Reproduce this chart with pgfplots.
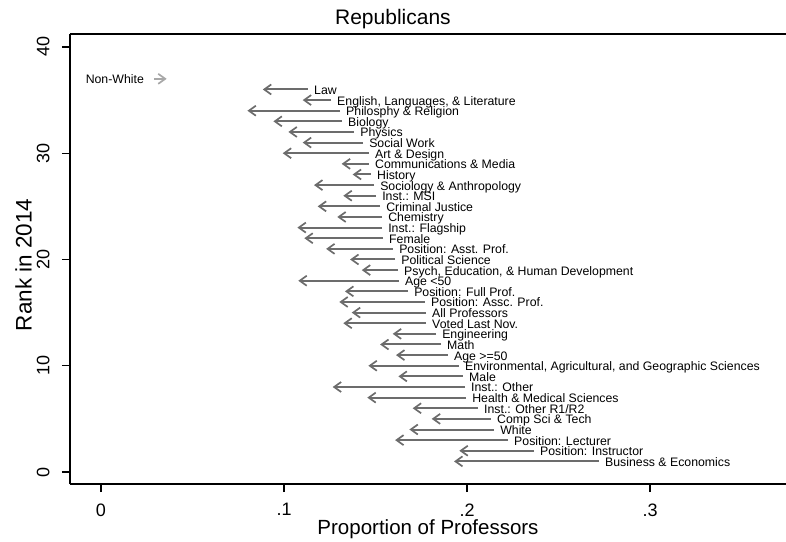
\documentclass[border=0pt]{standalone}
\usepackage{fontspec}
\setmainfont{Liberation Sans}
\usepackage{pgfplots}
\usepackage{pgfplotstable}
\pgfplotsset{compat=1.18}
\usetikzlibrary{arrows.meta}
\definecolor{arr}{RGB}{108,108,108}
\definecolor{arrlight}{RGB}{168,168,168}

\pgfplotstableread[col sep=semicolon,row sep=\\]{
tail;head;rank;label\\
0.1131;0.0884;36;Law\\
0.1257;0.1102;35;English, Languages, \& Literature\\
0.1306;0.0800;34;Philosphy \& Religion\\
0.1317;0.0942;33;Biology\\
0.1383;0.1024;32;Physics\\
0.1432;0.1102;31;Social Work\\
0.1464;0.0993;30;Art \& Design\\
0.1464;0.1315;29;Communications \& Media\\
0.1475;0.1375;28;History\\
0.1492;0.1164;27;Sociology \& Anthropology\\
0.1503;0.1324;26;Inst.: MSI\\
0.1525;0.1184;25;Criminal Justice\\
0.1536;0.1291;24;Chemistry\\
0.1536;0.1073;23;Inst.: Flagship\\
0.1541;0.1111;22;Female\\
0.1596;0.1230;21;Position: Asst. Prof.\\
0.1607;0.1361;20;Political Science\\
0.1623;0.1425;19;Psych, Education, \& Human Development\\
0.1628;0.1078;18;Age <50\\
0.1678;0.1333;17;Position: Full Prof.\\
0.1770;0.1302;16;Position: Assc. Prof.\\
0.1776;0.1370;15;All Professors\\
0.1776;0.1324;14;Voted Last Nov.\\
0.1831;0.1594;13;Engineering\\
0.1858;0.1525;12;Math\\
0.1896;0.1612;11;Age >=50\\
0.1956;0.1461;10;Environmental, Agricultural, and Geographic Sciences\\
0.1978;0.1625;9;Male\\
0.1989;0.1266;8;Inst.: Other\\
0.1995;0.1455;7;Health \& Medical Sciences\\
0.2060;0.1703;6;Inst.: Other R1/R2\\
0.2131;0.1807;5;Comp Sci \& Tech\\
0.2148;0.1685;4;White\\
0.2224;0.1607;3;Position: Lecturer\\
0.2366;0.1958;2;Position: Instructor\\
0.2721;0.1929;1;Business \& Economics\\
}\down

\pgfplotstableread[col sep=semicolon,row sep=\\]{
tail;head;rank;label\\
0.0290;0.0359;37;Non-White\\
}\up

\begin{document}
\begin{tikzpicture}
\path[use as bounding box] (0,0) rectangle (786pt,541pt);
\begin{axis}[
  at={(70pt,57pt)}, anchor=south west,
  scale only axis, width=716pt, height=450pt,
  xmin=-0.01694, xmax=0.3743, ymin=-1.129, ymax=41.22,
  axis x line=box, axis y line=left,
  axis line style={-, line width=1.2pt, black},
  xtick={0,0.1,0.2,0.3}, xticklabels={0,.1,.2,.3},
  ytick={0,10,20,30,40}, yticklabels={0,10,20,30,40},
  xtick pos=left, ytick pos=left,
  tick align=outside, major tick length=8pt,
  tick style={line width=1.1pt, black},
  tick label style={font=\fontsize{18}{20}\selectfont},
  xticklabel style={yshift=-8pt},
  yticklabel style={rotate=90, anchor=south, yshift=9pt},
  xlabel={Proportion of Professors},
  xlabel style={at={(axis description cs:0.5,0)}, anchor=base, yshift=-50pt, font=\fontsize{20.5}{23}\selectfont},
  ylabel={Rank in 2014},
  ylabel style={at={(axis description cs:-0.0535,0.487)}, anchor=base, font=\fontsize{22.5}{25}\selectfont},
  title={Republicans},
  title style={at={(axis description cs:0.451,1)}, anchor=base, yshift=3pt, font=\fontsize{21}{24}\selectfont},
  clip=false,
]
\addplot[arr, line width=2pt, -{Straight Barb[length=7pt,width=10pt,line width=1.7pt]},
  quiver={u=\thisrow{head}-\thisrow{tail}, v=0}] table[x=tail,y=rank]{\down};
\addplot[only marks, mark=none, nodes near coords, point meta=explicit symbolic,
  nodes near coords style={anchor=base west, inner sep=0pt, xshift=6pt, yshift=-5pt,
    font=\fontsize{12.3}{14}\selectfont, text=black}]
  table[x=tail,y=rank,meta=label]{\down};
\addplot[arrlight, line width=2pt, -{Straight Barb[length=7pt,width=10pt,line width=1.7pt]},
  quiver={u=\thisrow{head}-\thisrow{tail}, v=0}] table[x=tail,y=rank]{\up};
\addplot[only marks, mark=none, nodes near coords, point meta=explicit symbolic,
  nodes near coords style={anchor=base east, inner sep=0pt, xshift=-10pt, yshift=-5pt,
    font=\fontsize{12.3}{14}\selectfont, text=black}]
  table[x=tail,y=rank,meta=label]{\up};
\end{axis}
\end{tikzpicture}
\end{document}
